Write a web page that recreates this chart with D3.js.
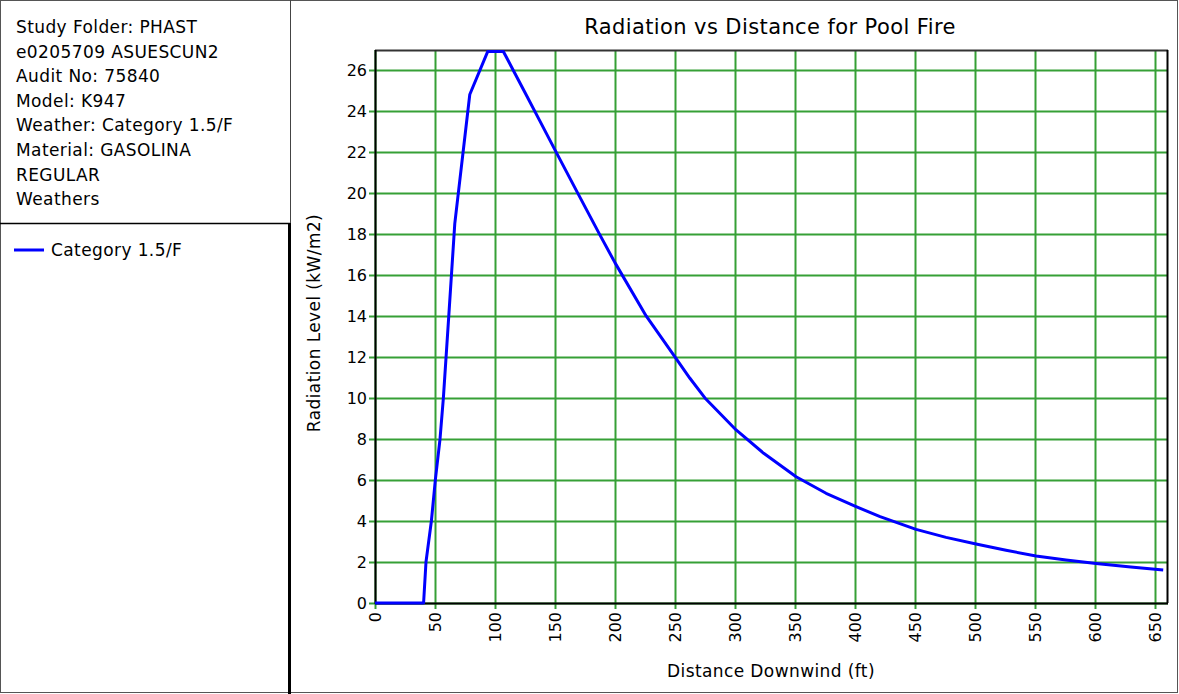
<!DOCTYPE html>
<html><head><meta charset="utf-8">
<script src="https://cdn.jsdelivr.net/npm/d3@7"></script>
<style>
html,body{margin:0;padding:0;background:#fff;}
svg{display:block;font-family:"DejaVu Sans",Arial,sans-serif;}
</style></head>
<body><svg id="c" width="1179" height="694"></svg>
<script>
const distance = [0, 40.5, 42.5, 47, 50.3, 54.2, 57, 61.5, 66.5, 79, 94, 107, 116, 125, 137.5, 150, 168, 187, 200, 226, 250, 262.5, 275, 301, 324, 351, 376, 401, 421, 451, 476, 501, 526, 551, 576, 601, 630, 657];
const radiation = [0, 0, 2, 4, 6, 8, 10, 14, 18.5, 24.8, 26.9, 26.9, 25.9, 24.9, 23.5, 22.1, 20.1, 18.0, 16.6, 14.0, 12.0, 10.96, 10.0, 8.44, 7.3, 6.16, 5.35, 4.70, 4.21, 3.59, 3.2, 2.88, 2.57, 2.29, 2.1, 1.93, 1.76, 1.61];
const xTicks = [0,50,100,150,200,250,300,350,400,450,500,550,600,650];
const yTicks = [0,2,4,6,8,10,12,14,16,18,20,22,24,26];
const infoLines = ["Study Folder: PHAST","e0205709 ASUESCUN2","Audit No: 75840","Model: K947","Weather: Category 1.5/F","Material: GASOLINA","REGULAR","Weathers"];
const seriesName = "Category 1.5/F";
const title = "Radiation vs Distance for Pool Fire";
const xTitle = "Distance Downwind (ft)";
const yTitle = "Radiation Level (kW/m2)";

const svg = d3.select("#c");
const L=375, R=1168, T=50, B=603;
const x = d3.scaleLinear().domain([0,661]).range([L,R]);
const y = d3.scaleLinear().domain([0,26.97]).range([B,T]);
const grid = "#36a036";
const FS = 16, TS = 17, LS = 0.4;

// frames
svg.append("rect").attr("x",0.5).attr("y",0.5).attr("width",1177).attr("height",692).attr("fill","none").attr("stroke","#555");
svg.append("line").attr("x1",290.5).attr("x2",290.5).attr("y1",0).attr("y2",223).attr("stroke","#444");
svg.append("line").attr("x1",289.5).attr("x2",289.5).attr("y1",223).attr("y2",694).attr("stroke","#000").attr("stroke-width",3);
svg.append("line").attr("x1",0).attr("x2",290).attr("y1",223.5).attr("y2",223.5).attr("stroke","#000").attr("stroke-width",1.5);

// info text
svg.append("g").selectAll("text").data(infoLines).join("text")
  .attr("x",16).attr("y",(d,i)=>33+i*24.6).attr("font-size",TS).attr("letter-spacing",LS).attr("fill","#000").text(d=>d);

// legend
svg.append("line").attr("x1",14).attr("x2",44).attr("y1",250).attr("y2",250).attr("stroke","#0000ff").attr("stroke-width",3);
svg.append("text").attr("x",51).attr("y",256).attr("font-size",TS).attr("letter-spacing",LS).text(seriesName);

// grid
const g = svg.append("g");
g.selectAll(".vx").data(xTicks).join("line")
  .attr("x1",d=>Math.round(x(d))+0.5).attr("x2",d=>Math.round(x(d))+0.5).attr("y1",T).attr("y2",B+6)
  .attr("stroke",grid).attr("stroke-width",2);
g.selectAll(".hy").data(yTicks).join("line")
  .attr("y1",d=>Math.round(y(d))+0.5).attr("y2",d=>Math.round(y(d))+0.5).attr("x1",L-6).attr("x2",R)
  .attr("stroke",grid).attr("stroke-width",2);

// plot border
svg.append("line").attr("x1",L).attr("x2",R).attr("y1",T+0.5).attr("y2",T+0.5).attr("stroke","#333").attr("stroke-width",2);
svg.append("line").attr("x1",R-0.5).attr("x2",R-0.5).attr("y1",T).attr("y2",B).attr("stroke","#000").attr("stroke-width",2);
svg.append("line").attr("x1",L+0.5).attr("x2",L+0.5).attr("y1",T).attr("y2",B+1).attr("stroke","#000").attr("stroke-width",2);
svg.append("line").attr("x1",L).attr("x2",R).attr("y1",B+0.5).attr("y2",B+0.5).attr("stroke","#000").attr("stroke-width",2);

// tick labels
svg.append("g").selectAll("text").data(yTicks).join("text")
  .attr("x",367).attr("y",d=>y(d)+6).attr("text-anchor","end").attr("font-size",FS).text(d=>d);
svg.append("g").selectAll("text").data(xTicks).join("text")
  .attr("transform",d=>`translate(${x(d)+6},${612}) rotate(-90)`)
  .attr("text-anchor","end").attr("font-size",FS).text(d=>d);

// titles
svg.append("text").attr("x",770).attr("y",34).attr("text-anchor","middle").attr("font-size",21).attr("letter-spacing",0.4).text(title);
svg.append("text").attr("x",771).attr("y",677).attr("text-anchor","middle").attr("font-size",TS).attr("letter-spacing",LS).text(xTitle);
svg.append("text").attr("transform",`translate(320,323) rotate(-90)`).attr("text-anchor","middle").attr("font-size",TS).attr("letter-spacing",LS).text(yTitle);

// curve
const pts = distance.map((d,i)=>[d,radiation[i]]);
svg.append("path").datum(pts)
  .attr("d",d3.line().x(d=>x(d[0])).y(d=>y(d[1])))
  .attr("fill","none").attr("stroke","#0000ff").attr("stroke-width",3).attr("stroke-linejoin","round");
</script></body></html>
